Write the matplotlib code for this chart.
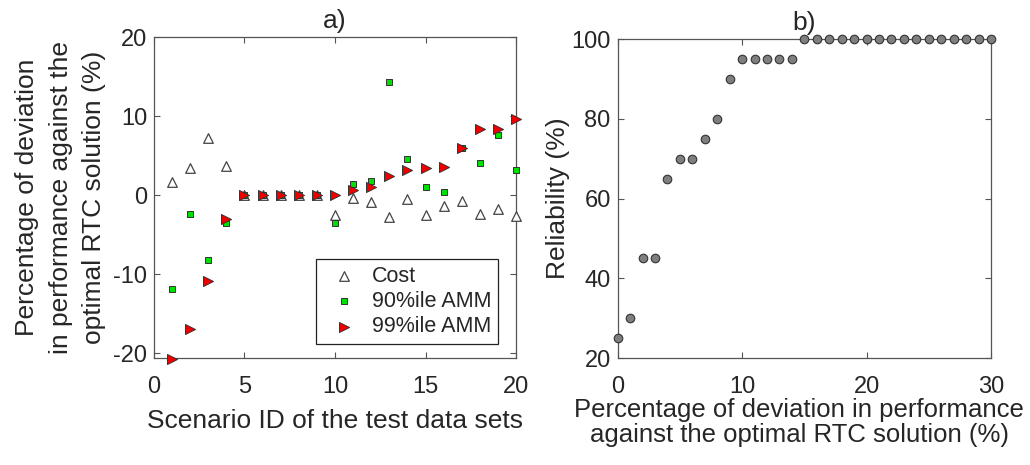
import numpy as np
import matplotlib.pyplot as plt

plt.rcParams['font.family'] = ['Liberation Sans', 'DejaVu Sans']
plt.rcParams['axes.unicode_minus'] = False

# panel a) deviation per scenario
scenario = list(range(1, 21))
cost = [1.65, 3.5, 7.2, 3.7, 0, 0, 0, 0, 0, -2.5,
        -0.35, -0.9, -2.8, -0.45, -2.5, -1.3, -0.7, -2.4, -1.7, -2.6]
amm90 = [-11.9, -2.4, -8.2, -3.5, 0, 0, 0, 0, 0, -3.5,
         1.4, 1.85, 14.4, 4.6, 1.1, 0.46, 6.0, 4.1, 7.6, 3.2]
amm99 = [-20.7, -16.9, -10.8, -3.0, 0, 0, 0, 0, 0, 0,
         0.7, 1.1, 2.5, 3.2, 3.5, 3.6, 6.0, 8.4, 8.4, 9.7]

# panel b) reliability vs deviation threshold
deviation = list(range(0, 31))
reliability = [25, 30, 45, 45, 65, 70, 70, 75, 80, 90,
               95, 95, 95, 95, 95] + [100] * 16

TXT = '#262626'
AX = '#555555'
fs = 19

fig = plt.figure(figsize=(10.3, 4.65), dpi=100)
ax1 = fig.add_axes([0.1495, 0.2301, 0.3515, 0.6897])
ax2 = fig.add_axes([0.5997, 0.2301, 0.3624, 0.6855])

ax1.scatter(scenario, cost, marker='^', s=48, facecolor='white',
            edgecolor='#444444', linewidths=0.9, label='Cost', zorder=3, clip_on=False)
ax1.scatter(scenario, amm90, marker='s', s=24, facecolor='#00e000',
            edgecolor='#333333', linewidths=0.7, label='90%ile AMM', zorder=4, clip_on=False)
ax1.scatter(scenario, amm99, marker='>', s=52, facecolor='#ee0000',
            edgecolor='#333333', linewidths=0.7, label='99%ile AMM', zorder=5, clip_on=False)
ax1.set_xlim(0, 20)
ax1.set_ylim(-20.6, 20)
ax1.set_xticks([0, 5, 10, 15, 20])
ax1.set_yticks([-20, -10, 0, 10, 20])
ax1.set_xlabel('Scenario ID of the test data sets', fontsize=fs, color=TXT, labelpad=8)
ax1.set_ylabel('Percentage of deviation\nin performance against the\noptimal RTC solution (%)',
               fontsize=fs, color=TXT, linespacing=1.5, labelpad=5)
ax1.set_title('a)', fontsize=fs, color=TXT, pad=7)
leg = ax1.legend(loc='lower right', bbox_to_anchor=(0.950, 0.044), borderaxespad=0,
                 fontsize=15.5, fancybox=False, framealpha=1, edgecolor='#222222',
                 handletextpad=0.3, borderpad=0.3, labelspacing=0.2, handlelength=2.0)
leg.get_frame().set_linewidth(0.9)
for t in leg.get_texts():
    t.set_color(TXT)

ax2.scatter(deviation, reliability, marker='o', s=38, facecolor='#7f7f7f',
            edgecolor='#333333', linewidths=0.8, zorder=3, clip_on=False)
ax2.set_xlim(0, 30)
ax2.set_ylim(20, 100)
ax2.set_xticks([0, 10, 20, 30])
ax2.set_yticks([20, 40, 60, 80, 100])
ax2.set_xlabel('Percentage of deviation in performance\nagainst the optimal RTC solution (%)',
               fontsize=18.5, color=TXT, linespacing=1.05)
ax2.xaxis.set_label_coords(0.486, -0.127)
ax2.set_ylabel('Reliability (%)', fontsize=fs, color=TXT, labelpad=1)
ax2.set_title('b)', fontsize=fs, color=TXT, pad=7)

for ax in (ax1, ax2):
    ax.tick_params(direction='in', top=True, right=True, labelsize=17,
                   colors=AX, labelcolor=TXT, length=4, width=0.8)
    ax.tick_params(axis='x', pad=13)
    ax.tick_params(axis='y', pad=5)
    for sp in ax.spines.values():
        sp.set_color(AX)
        sp.set_linewidth(0.9)

fig.savefig('out.png', dpi=100)
